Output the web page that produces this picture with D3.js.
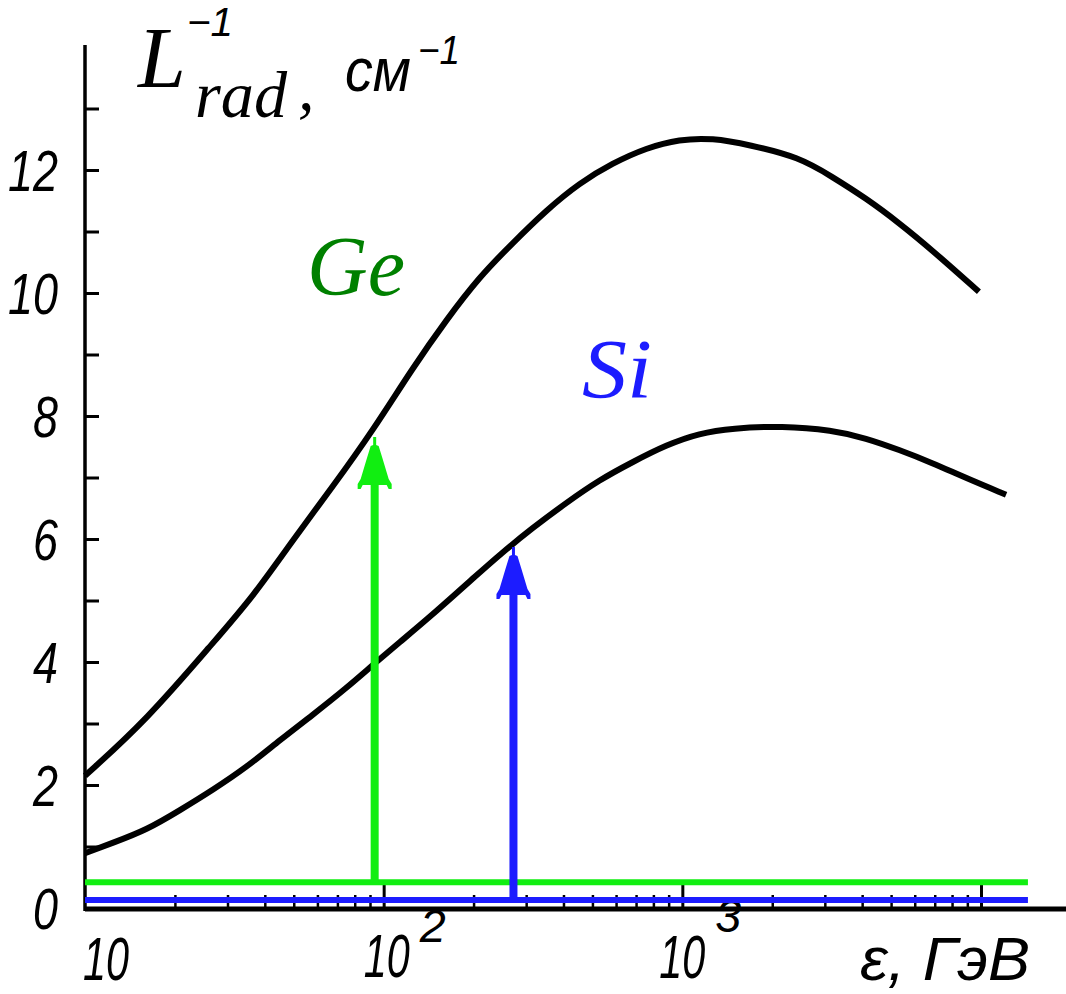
<!DOCTYPE html>
<html>
<head>
<meta charset="utf-8">
<script src="https://cdn.jsdelivr.net/npm/d3@7"></script>
<style>
  html, body { margin: 0; padding: 0; background: #fff; }
  svg { display: block; }
  .num { font-family: "Liberation Sans", "DejaVu Sans", sans-serif; font-style: italic; }
  .ser { font-family: "Liberation Serif", "DejaVu Serif", serif; font-style: italic; }
</style>
</head>
<body>
<svg id="chart" width="1066" height="994"></svg>
<script>
// ---- data ----
const geEnergy = [10, 16.1, 26.8, 36.5, 49.6, 67.5, 91.9, 125, 162, 209, 270, 351, 453, 583, 758, 977, 1259, 1675, 2461, 3175, 4123, 5318, 6855, 9840];
const geValue  = [2.15, 3.06, 4.31, 5.06, 5.98, 6.85, 7.76, 8.78, 9.56, 10.26, 10.81, 11.35, 11.79, 12.11, 12.36, 12.50, 12.52, 12.41, 12.21, 11.89, 11.54, 11.14, 10.70, 10.02];

const siEnergy = [10, 12.4, 16.1, 20.8, 26.8, 34.8, 44.9, 57.9, 75.2, 91.9, 113, 142, 209, 244, 315, 409, 527, 680, 884, 1140, 1469, 2159, 3175, 4123, 5318, 6855, 8913, 12134];
const siValue  = [0.89, 1.06, 1.27, 1.59, 1.92, 2.29, 2.73, 3.14, 3.58, 3.95, 4.32, 4.72, 5.45, 5.74, 6.18, 6.59, 6.96, 7.25, 7.53, 7.72, 7.80, 7.84, 7.77, 7.64, 7.45, 7.24, 6.99, 6.72];

// arrows: energy position, base level, tip value
const arrowNames  = ["Ge", "Si"];
const arrowEnergy = [93.3, 272];
const arrowBase   = [0.42, 0.13];
const arrowTip    = [7.66, 5.87];
// horizontal base levels, running from E=10 to levelEnd
const levelValue  = [0.42, 0.13];
const levelEnd    = 14360;

const yTickValues = [1,2,3,4,5,6,7,8,9,10,11,12,13];
const yTickLabels = ["12", "10", "8", "6", "4", "2", "0"];
const yLabelValues = [12, 10, 8, 6, 4, 2, 0];
const xMajor = [10, 100, 1000, 10000];
const xLabelBase = ["10", "10", "10"];
const xLabelExp  = ["", "2", "3"];
const xMinor = [20,30,40,50,60,70,80,90,200,300,400,500,600,700,800,900,2000,3000,4000,5000,6000,7000,8000,9000];

// ---- layout ----
const svg = d3.select("#chart");
const x = d3.scaleLog().domain([10, 10000]).range([85, 981]);
const y = d3.scaleLinear().domain([0, 14]).range([908, 47]);

const green = "#11ee11", blue = "#1c1cff";

// helper: condensed text by forcing its width
function ctext(sel, cls, str, px, py, size, width, anchor) {
  const t = sel.append("text").attr("class", cls).attr("x", px).attr("y", py)
    .attr("font-size", size).attr("text-anchor", anchor || "start").text(str);
  if (width) t.attr("textLength", width).attr("lengthAdjust", "spacingAndGlyphs");
  return t;
}

// axes lines
svg.append("line").attr("x1", x(10)).attr("x2", 1066).attr("y1", y(0) + 1).attr("y2", y(0) + 1)
  .attr("stroke", "#000").attr("stroke-width", 5);
svg.append("line").attr("x1", x(10)).attr("x2", x(10)).attr("y1", y(14) - 2).attr("y2", y(0) + 3)
  .attr("stroke", "#000").attr("stroke-width", 3.5);

// y ticks (inward)
const yAxis = svg.append("g").attr("transform", `translate(${x(10)},0)`)
  .call(d3.axisRight(y).tickValues(yTickValues).tickSize(14).tickFormat(""));
yAxis.select(".domain").remove();
yAxis.selectAll(".tick line").attr("stroke", "#000").attr("stroke-width", 3);

// x ticks (upward)
const xMaj = svg.append("g").attr("transform", `translate(0,${y(0)})`)
  .call(d3.axisTop(x).tickValues(xMajor.slice(1)).tickSize(23).tickFormat(""));
xMaj.select(".domain").remove();
xMaj.selectAll(".tick line").attr("stroke", "#000").attr("stroke-width", 3);
const xMin = svg.append("g").attr("transform", `translate(0,${y(0)})`)
  .call(d3.axisTop(x).tickValues(xMinor).tickSize(13).tickFormat(""));
xMin.select(".domain").remove();
xMin.selectAll(".tick line").attr("stroke", "#000").attr("stroke-width", 2.5);

// y labels
const yl = svg.append("g").attr("fill", "#000");
yLabelValues.forEach((v, i) => {
  const s = yTickLabels[i];
  ctext(yl, "num", s, 58, y(v) + 21, 58, 25 * s.length, "end");
});

// x labels (base + superscript exponent in one text element)
const xl = svg.append("g").attr("fill", "#000");
const xOff = [21, 3, 0];
const baseY = [980, 977, 978];
const expY = [0, 942, 932];
xLabelBase.forEach((b, i) => {
  const cx = x(xMajor[i]) + xOff[i];
  const txt = xl.append("text").attr("class", "num");
  txt.append("tspan").attr("x", cx - 23).attr("y", baseY[i]).attr("font-size", 62)
    .attr("textLength", 46).attr("lengthAdjust", "spacingAndGlyphs").text(b);
  if (xLabelExp[i]) {
    txt.append("tspan").attr("x", cx + 33 + (i === 2 ? 0 : 0)).attr("y", expY[i]).attr("font-size", 46)
      .attr("textLength", 26).attr("lengthAdjust", "spacingAndGlyphs").text(xLabelExp[i]);
  }
});
ctext(xl, "num", "ε, ГэВ", 860, 980, 62, 170);

// title
const t = svg.append("g").attr("fill", "#000");
ctext(t, "ser", "L", 138, 87, 86);
ctext(t, "num", "−1", 187, 36, 40, 46);
ctext(t, "ser", "rad", 195, 117, 66, 92);
ctext(t, "ser", ",", 298, 110, 66);
ctext(t, "num", "см", 345, 91, 62, 66);
ctext(t, "num", "−1", 418, 64, 40, 42);

// curves
const line = d3.line().x(d => x(d[0])).y(d => y(d[1])).curve(d3.curveBasis);
const geData = geEnergy.map((e, i) => [e, geValue[i]]);
const siData = siEnergy.map((e, i) => [e, siValue[i]]);
[geData, siData].forEach(dat => {
  svg.append("path").datum(dat).attr("d", line).attr("fill", "none")
    .attr("stroke", "#000").attr("stroke-width", 6).attr("stroke-linecap", "butt");
});

// material labels
ctext(svg, "ser", "Ge", 307, 295, 84, 98).attr("fill", "#008000");
ctext(svg, "ser", "Si", 582, 398, 84, 70).attr("fill", "#1c1cff");

// levels + arrows (green first, blue on top)
const colors = [green, blue];
function arrowHead(cx, tipY) {
  const p = d3.path();
  p.moveTo(cx - 1.5, tipY); p.lineTo(cx + 1.5, tipY); p.lineTo(cx + 1.5, tipY + 8);
  p.lineTo(cx + 4, tipY + 9); p.lineTo(cx + 8, tipY + 22); p.lineTo(cx + 11, tipY + 32);
  p.lineTo(cx + 14, tipY + 42); p.lineTo(cx + 17, tipY + 47); p.lineTo(cx + 17, tipY + 52);
  p.lineTo(cx + 14, tipY + 52); p.lineTo(cx + 12, tipY + 48); p.lineTo(cx + 4, tipY + 48);
  p.lineTo(cx - 4, tipY + 48); p.lineTo(cx - 12, tipY + 48); p.lineTo(cx - 14, tipY + 52);
  p.lineTo(cx - 17, tipY + 52); p.lineTo(cx - 17, tipY + 47); p.lineTo(cx - 14, tipY + 42);
  p.lineTo(cx - 11, tipY + 32); p.lineTo(cx - 8, tipY + 22); p.lineTo(cx - 4, tipY + 9);
  p.lineTo(cx - 1.5, tipY + 8); p.closePath();
  return p.toString();
}
arrowNames.forEach((n, i) => {
  const g = svg.append("g");
  g.append("line").attr("x1", x(10)).attr("x2", x(levelEnd))
    .attr("y1", y(levelValue[i])).attr("y2", y(levelValue[i]))
    .attr("stroke", colors[i]).attr("stroke-width", 6);
  const cx = x(arrowEnergy[i]);
  const tipY = y(arrowTip[i]);
  g.append("line").attr("x1", cx).attr("x2", cx)
    .attr("y1", y(arrowBase[i])).attr("y2", tipY + 46)
    .attr("stroke", colors[i]).attr("stroke-width", 8);
  g.append("path").attr("d", arrowHead(cx, tipY)).attr("fill", colors[i]);
});
</script>
</body>
</html>
